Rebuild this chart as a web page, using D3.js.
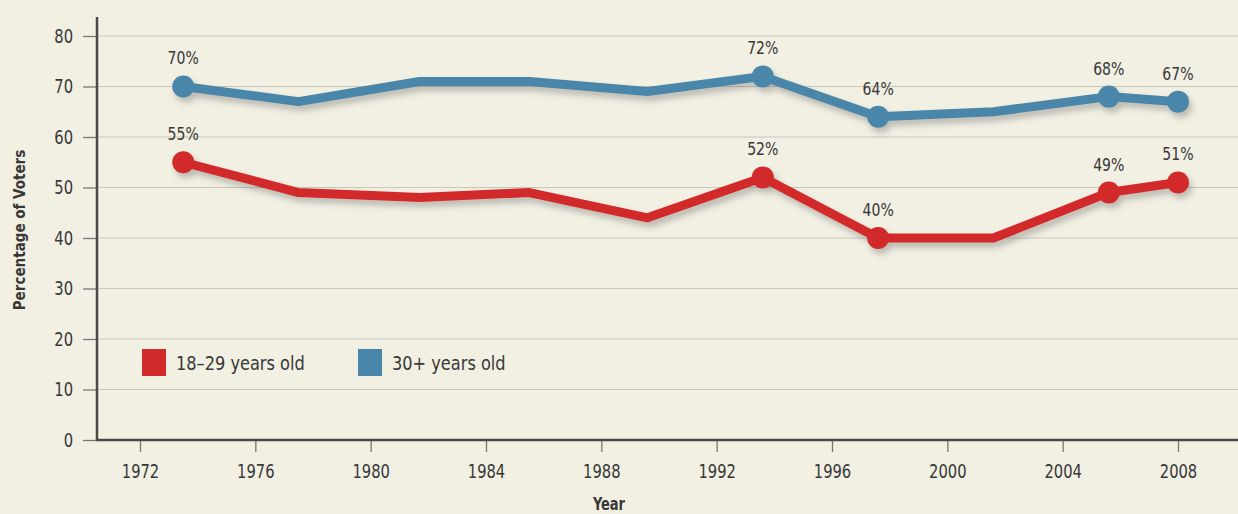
<!DOCTYPE html>
<html>
<head>
<meta charset="utf-8">
<script src="https://cdn.jsdelivr.net/npm/d3@7"></script>
<style>
  html, body { margin: 0; padding: 0; background: #f2f0e3; }
  svg { display: block; }
  text { font-family: "DejaVu Sans", sans-serif; font-stretch: condensed; fill: #383838; }
</style>
</head>
<body>
<div id="chart"></div>
<script>
// data (x = position along the year axis)
var pointYears = [1973.5, 1977.5, 1981.7, 1985.5, 1989.6, 1993.6, 1997.6, 2001.6, 2005.6, 2008];
var youngValues = [55, 49, 48, 49, 44, 52, 40, 40, 49, 51];
var olderValues = [70, 67, 71, 71, 69, 72, 64, 65, 68, 67];
// which points carry a marker and a label
var labelled = [0, 5, 6, 8, 9];
var youngLabels = ["55%", "52%", "40%", "49%", "51%"];
var olderLabels = ["70%", "72%", "64%", "68%", "67%"];
var yearTicks = [1972, 1976, 1980, 1984, 1988, 1992, 1996, 2000, 2004, 2008];
var valueTicks = [0, 10, 20, 30, 40, 50, 60, 70, 80];
var seriesNames = ["18\u201329 years old", "30+ years old"];

var svgWidth = 1238;
var svgHeight = 514;
var red = "#d22a2b";
var blue = "#4a86a9";

// squeeze text sideways, the reference uses a condensed face
function condense(sel, k) {
    sel.each(function() {
        var t = d3.select(this);
        var x0 = +t.attr("x") || 0;
        t.attr("x", x0 / k).attr("transform", `scale(${k},1)`);
    });
}

var svg = d3.select("#chart")
    .append("svg")
    .attr("width", svgWidth)
    .attr("height", svgHeight);

// soft shadow under the lines
var defs = svg.append("defs");
var shadow = defs.append("filter").attr("id", "shadow")
    .attr("x", "-5%").attr("y", "-20%").attr("width", "110%").attr("height", "140%");
shadow.append("feDropShadow")
    .attr("dx", 3).attr("dy", 5).attr("stdDeviation", 3)
    .attr("flood-color", "#555").attr("flood-opacity", 0.35);

var axisX = 97;
var axisY = 440;

var x = d3.scaleLinear().domain([1972, 2008]).range([140, 1178]);
var y = d3.scaleLinear().domain([0, 80]).range([axisY, 36]);

// gridlines
svg.append("g")
    .selectAll("line")
    .data(valueTicks.filter(d => d > 0))
    .enter()
    .append("line")
    .attr("x1", axisX).attr("x2", svgWidth)
    .attr("y1", d => y(d)).attr("y2", d => y(d))
    .attr("stroke", "#c8c7bd")
    .attr("stroke-width", 1.2);

// y axis
var leftAxis = d3.axisLeft(y).tickValues(valueTicks).tickSize(14).tickPadding(10).tickSizeOuter(0);
var gy = svg.append("g")
    .attr("transform", `translate(${axisX},0)`)
    .call(leftAxis);
gy.select(".domain").remove();
gy.selectAll(".tick line").attr("stroke", "#777").attr("stroke-width", 1.3);
gy.selectAll(".tick text").style("font-size", "20px").attr("fill", "#383838")
    .style("font-family", "DejaVu Sans").style("font-stretch", "condensed")
    .call(condense, 0.82);

// x axis
var bottomAxis = d3.axisBottom(x).tickValues(yearTicks).tickFormat(d3.format("d")).tickSize(12).tickPadding(12).tickSizeOuter(0);
var gx = svg.append("g")
    .attr("transform", `translate(0,${axisY})`)
    .call(bottomAxis);
gx.select(".domain").remove();
gx.selectAll(".tick line").attr("stroke", "#777").attr("stroke-width", 1.3);
gx.selectAll(".tick text").style("font-size", "20px").attr("fill", "#383838")
    .style("font-family", "DejaVu Sans").style("font-stretch", "condensed")
    .call(condense, 0.82);

// axis lines
svg.append("line")
    .attr("x1", axisX).attr("x2", axisX)
    .attr("y1", 17).attr("y2", axisY + 1)
    .attr("stroke", "#4a4a44").attr("stroke-width", 2.5);
svg.append("line")
    .attr("x1", axisX - 1).attr("x2", svgWidth)
    .attr("y1", axisY).attr("y2", axisY)
    .attr("stroke", "#4a4a44").attr("stroke-width", 2.5);

// axis titles
svg.append("text")
    .attr("x", 609).attr("y", 510)
    .attr("text-anchor", "middle")
    .style("font-size", "17px").style("font-weight", "bold")
    .call(condense, 0.85)
    .text("Year");
svg.append("text")
    .attr("transform", "translate(25,230) rotate(-90)")
    .attr("text-anchor", "middle")
    .style("font-size", "15px").style("font-weight", "bold")
    .text("Percentage of Voters");

// series
var series = [
    { values: youngValues, labels: youngLabels, color: red },
    { values: olderValues, labels: olderLabels, color: blue }
];

var line = d3.line()
    .x((d, i) => x(pointYears[i]))
    .y(d => y(d));

series.forEach(function(s) {
    var g = svg.append("g").attr("filter", "url(#shadow)");
    g.append("path")
        .datum(s.values)
        .attr("d", line)
        .attr("fill", "none")
        .attr("stroke", s.color)
        .attr("stroke-width", 9)
        .attr("stroke-linejoin", "round")
        .attr("stroke-linecap", "round");
    g.selectAll("circle")
        .data(labelled)
        .enter()
        .append("circle")
        .attr("cx", i => x(pointYears[i]))
        .attr("cy", i => y(s.values[i]))
        .attr("r", 11)
        .attr("fill", s.color);
    svg.append("g")
        .selectAll("text")
        .data(labelled)
        .enter()
        .append("text")
        .attr("x", i => x(pointYears[i]))
        .attr("y", i => y(s.values[i]) - 22)
        .attr("text-anchor", "middle")
        .style("font-size", "17px")
        .text((i, k) => s.labels[k])
        .call(condense, 0.92);
});

// legend
var legend = svg.append("g");
var legendX = [142, 358];
seriesNames.forEach(function(name, i) {
    legend.append("rect")
        .attr("x", legendX[i]).attr("y", 349)
        .attr("width", 24).attr("height", 27)
        .attr("fill", i === 0 ? red : blue);
    legend.append("text")
        .attr("x", legendX[i] + 34).attr("y", 370)
        .style("font-size", "20px")
        .text(name)
        .call(condense, 0.9);
});
</script>
</body>
</html>
